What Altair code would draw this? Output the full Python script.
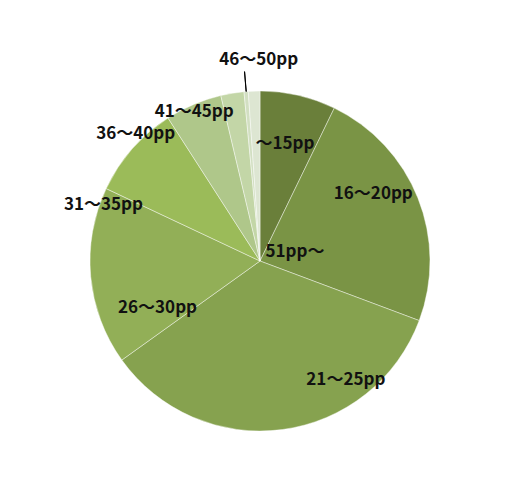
import altair as alt
import pandas as pd

labels = ["～15pp", "16～20pp", "21～25pp", "26～30pp", "31～35pp",
          "36～40pp", "41～45pp", "46～50pp", "51pp～"]
values = [7.2, 23.5, 34.4, 16.9, 8.9, 5.4, 2.2, 0.4, 1.1]
colors = ["#6A7F3A", "#7A9445", "#86A24F", "#92AF57", "#9BBB59",
          "#AFC78A", "#C3D6A7", "#D2DFC2", "#DDE6D2"]

# label placement (position around the circle in % and distance from centre in px)
label_pos = [3.35, 16.45, 40.05, 68.2, 80.5, 87.7, 93.4, 99.9, 20.9]
label_rad = [119.6, 131.9, 146.7, 112.6, 166.4, 178.0, 163.2, 201.2, 36.2]

# leader line for the "46～50pp" label
leader_pos = [98.7]

df = pd.DataFrame({
    "label": labels,
    "value": values,
    "idx": list(range(len(labels))),
    "lpos": label_pos,
    "lrad": label_rad,
})
leader = pd.DataFrame({"t": leader_pos, "t2": [p + 0.01 for p in leader_pos]})

theta_scale = alt.Scale(domain=[0, 100])

pie = alt.Chart(df).mark_arc(
    radius=170, stroke="white", strokeWidth=0.6, strokeOpacity=0.7
).encode(
    theta=alt.Theta("value:Q", stack=True, scale=theta_scale),
    order=alt.Order("idx:Q"),
    color=alt.Color("label:N", scale=alt.Scale(domain=labels, range=colors), legend=None),
)

text = alt.Chart(df).mark_text(
    font="Noto Sans CJK JP", fontSize=17, fontWeight="bold", color="#111111",
    align="center", baseline="middle"
).encode(
    theta=alt.Theta("lpos:Q", stack=False, scale=theta_scale),
    radius=alt.Radius("lrad:Q", scale=None),
    text="label:N",
)

line = alt.Chart(leader).mark_arc(
    radius=190, radius2=170, stroke="black", strokeWidth=1, fillOpacity=0
).encode(
    theta=alt.Theta("t:Q", stack=False, scale=theta_scale),
    theta2="t2:Q",
)

chart = alt.layer(pie, line, text).properties(
    width=470, height=420,
    padding={"left": 17, "top": 42, "right": 0, "bottom": 0},
).configure_view(stroke=None)

chart.save("out.html", embed_options={"renderer": "svg", "actions": False})
